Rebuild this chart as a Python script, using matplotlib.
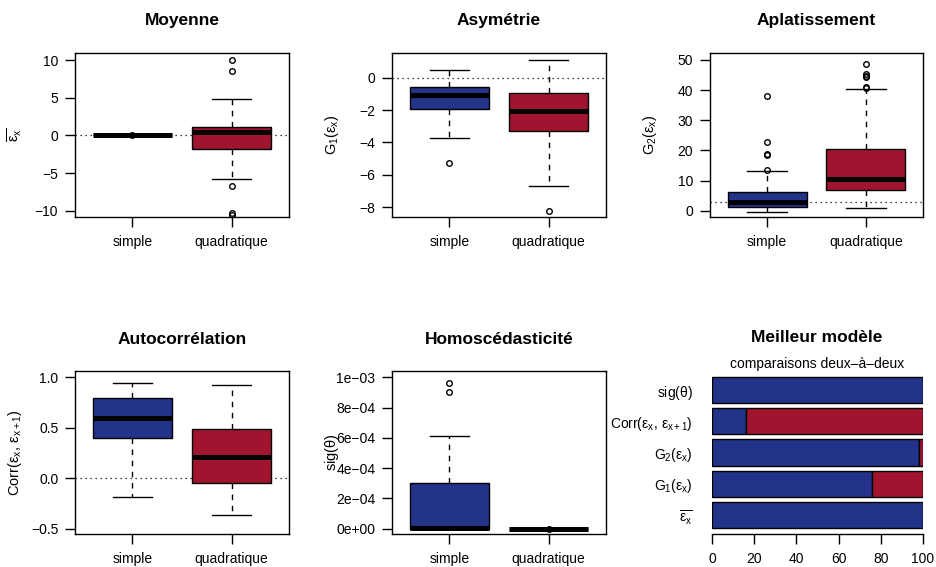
import numpy as np
import matplotlib
matplotlib.use("Agg")
import matplotlib.pyplot as plt

plt.rcParams['font.family'] = ['Liberation Sans', 'DejaVu Sans']
plt.rcParams['mathtext.fontset'] = 'custom'
plt.rcParams['mathtext.rm'] = 'Liberation Sans'
plt.rcParams['mathtext.it'] = 'Liberation Sans'
plt.rcParams['mathtext.bf'] = 'Liberation Sans:bold'
plt.rcParams['axes.unicode_minus'] = True

# Couleurs des modèles
bleu = '#24338A'
rouge = '#A01430'

modeles = ['simple', 'quadratique']

# Statistiques des boîtes : (whislo, q1, med, q3, whishi, fliers)
moyenne_simple = (0.0, 0.0, 0.0, 0.0, 0.0, [0.0])
moyenne_quad = (-5.8, -1.8, 0.4, 1.1, 4.9, [10.0, 8.6, -6.7, -10.3, -10.5])

asym_simple = (-3.7, -1.95, -1.1, -0.6, 0.45, [-5.25])
asym_quad = (-6.7, -3.3, -2.05, -0.95, 1.1, [-8.2])

aplat_simple = (-0.5, 1.3, 2.8, 6.2, 13.3, [13.6, 18.5, 18.8, 22.7, 38.2])
aplat_quad = (1.0, 6.8, 10.5, 20.3, 40.2, [40.8, 41.0, 44.2, 44.8, 45.2, 48.5])

autocorr_simple = (-0.19, 0.395, 0.60, 0.79, 0.945, [])
autocorr_quad = (-0.36, -0.05, 0.21, 0.485, 0.925, [])

homosc_simple = (0.0, 0.0, 0.000005, 0.000305, 0.00061, [0.0009, 0.00096])
homosc_quad = (0.0, 0.0, 0.0, 0.0, 0.0, [0.0])

# Meilleur modèle : % de comparaisons gagnées par le modèle simple
criteres = [r'$\overline{\varepsilon_\mathrm{x}}$',
            r'$\mathrm{G}_1(\varepsilon_\mathrm{x})$',
            r'$\mathrm{G}_2(\varepsilon_\mathrm{x})$',
            r'$\mathrm{Corr}(\varepsilon_\mathrm{x},\,\varepsilon_{\mathrm{x+1}})$',
            r'$\mathrm{sig}(\theta)$']
pct_simple = [100, 76, 98, 16, 100]

W, H = 937, 567
fig = plt.figure(figsize=(W / 100, H / 100), dpi=100)


def px_axes(left, top, right, bottom):
    return fig.add_axes([left / W, 1 - bottom / H, (right - left) / W, (bottom - top) / H])


def stats(s):
    return dict(whislo=s[0], q1=s[1], med=s[2], q3=s[3], whishi=s[4], fliers=s[5])


def boite(rect, data, titre, ylab, yticks, yticklabels, ylim, ref=None):
    ax = px_axes(*rect)
    bp = ax.bxp([stats(d) for d in data], positions=[1, 2], widths=0.8,
                patch_artist=True, manage_ticks=False,
                boxprops=dict(edgecolor='black', linewidth=1.0),
                medianprops=dict(color='black', linewidth=3.6, solid_capstyle='butt'),
                whiskerprops=dict(color='black', linestyle=(0, (4, 4)), linewidth=1.0),
                capprops=dict(color='black', linewidth=1.0),
                flierprops=dict(marker='o', markerfacecolor='none', markeredgecolor='black',
                                markersize=4, markeredgewidth=1.0))
    for patch, c in zip(bp['boxes'], [bleu, rouge]):
        patch.set_facecolor(c)
    if ref is not None:
        ax.axhline(ref, color='black', linestyle=(0, (1, 3)), linewidth=0.9, zorder=0)
    ax.set_xlim(0.42, 2.58)
    ax.set_ylim(*ylim)
    ax.set_xticks([1, 2], modeles)
    ax.set_yticks(yticks, yticklabels)
    ax.tick_params(axis='both', direction='out', length=7, width=1.0, labelsize=10)
    ax.tick_params(axis='x', pad=6)
    ax.tick_params(axis='y', pad=5)
    for sp in ax.spines.values():
        sp.set_linewidth(1.0)
    left, top, right, bottom = rect
    fig.text((left + right) / 2 / W, 1 - (top - 32) / H, titre, ha='center', va='center',
             fontsize=12.5, fontweight='bold')
    fig.text((left - 60) / W, 1 - (top + bottom) / 2 / H, ylab, rotation=90,
             ha='center', va='center', fontsize=10.5)
    return ax


boite((75, 53, 289, 217), [moyenne_simple, moyenne_quad], 'Moyenne',
      r'$\overline{\varepsilon_\mathrm{x}}$',
      [-10, -5, 0, 5, 10], ['−10', '−5', '0', '5', '10'], (-10.8, 10.93), ref=0)

boite((392, 53, 606, 217), [asym_simple, asym_quad], 'Asymétrie',
      r'$\mathrm{G}_1(\varepsilon_\mathrm{x})$',
      [-8, -6, -4, -2, 0], ['−8', '−6', '−4', '−2', '0'], (-8.6, 1.52), ref=0)

boite((710, 53, 923, 217), [aplat_simple, aplat_quad], 'Aplatissement',
      r'$\mathrm{G}_2(\varepsilon_\mathrm{x})$',
      [0, 10, 20, 30, 40, 50], ['0', '10', '20', '30', '40', '50'], (-2.1, 52.3), ref=3)

boite((75, 371, 289, 534), [autocorr_simple, autocorr_quad], 'Autocorrélation',
      r'$\mathrm{Corr}(\varepsilon_\mathrm{x},\,\varepsilon_{\mathrm{x+1}})$',
      [-0.5, 0.0, 0.5, 1.0], ['−0.5', '0.0', '0.5', '1.0'], (-0.553, 1.062), ref=0)

boite((392, 371, 606, 534), [homosc_simple, homosc_quad], 'Homoscédasticité',
      r'$\mathrm{sig}(\theta)$',
      [0, 2e-4, 4e-4, 6e-4, 8e-4, 1e-3],
      ['0e+00', '2e−04', '4e−04', '6e−04', '8e−04', '1e−03'], (-0.035e-3, 1.042e-3))

# Diagramme en barres empilées
ax = px_axes(712, 371, 923, 534)
pos = 0.7 + 1.2 * np.arange(len(criteres))
simple = np.array(pct_simple)
ax.barh(pos, simple, height=1.0, color=bleu, edgecolor='black', linewidth=1.0)
ax.barh(pos, 100 - simple, left=simple, height=1.0, color=rouge, edgecolor='black', linewidth=1.0)
ax.set_xlim(0, 100)
ax.set_ylim(-0.032, 6.232)
ax.set_yticks(pos, criteres)
ax.set_xticks([0, 20, 40, 60, 80, 100])
ax.tick_params(axis='y', length=0, pad=14, labelsize=10)
ax.tick_params(axis='x', direction='out', length=7, width=1.0, pad=6, labelsize=10)
for s in ['top', 'right', 'left']:
    ax.spines[s].set_visible(False)
ax.spines['bottom'].set_linewidth(1.0)
fig.text(817 / W, 1 - 338 / H, 'Meilleur modèle', ha='center', va='center',
         fontsize=12.5, fontweight='bold')
fig.text(817 / W, 1 - 364 / H, 'comparaisons deux–à–deux', ha='center', va='center',
         fontsize=10)

plt.savefig('out.png', dpi=100)
